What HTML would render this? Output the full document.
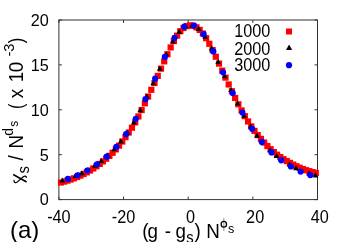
<!DOCTYPE html>
<html><head><meta charset="utf-8"><title>chart</title>
<style>html,body{margin:0;padding:0;background:#fff;}body{width:346px;height:242px;overflow:hidden;position:relative;font-family:"Liberation Sans",sans-serif;}</style>
</head><body>
<svg width="346" height="242" viewBox="0 0 346 242" style="position:absolute;left:0;top:0;will-change:transform">
<rect width="346" height="242" fill="#fff"/>
<g stroke="#333" stroke-width="1.0" fill="none">
<rect x="58.9" y="20.0" width="258.6" height="179.6"/>
<path d="M58.90 199.6V196.6M58.90 20.0V23.0"/>
<path d="M123.55 199.6V196.6M123.55 20.0V23.0"/>
<path d="M188.20 199.6V196.6M188.20 20.0V23.0"/>
<path d="M252.85 199.6V196.6M252.85 20.0V23.0"/>
<path d="M317.50 199.6V196.6M317.50 20.0V23.0"/>
<path d="M58.9 199.60H61.9M317.5 199.60H314.5"/>
<path d="M58.9 154.70H61.9M317.5 154.70H314.5"/>
<path d="M58.9 109.80H61.9M317.5 109.80H314.5"/>
<path d="M58.9 64.90H61.9M317.5 64.90H314.5"/>
<path d="M58.9 20.00H61.9M317.5 20.00H314.5"/>
</g>
<g fill="#f00">
<rect x="57.90" y="179.42" width="6.2" height="6.2"/>
<rect x="61.12" y="178.49" width="6.2" height="6.2"/>
<rect x="64.35" y="177.49" width="6.2" height="6.2"/>
<rect x="67.58" y="176.41" width="6.2" height="6.2"/>
<rect x="70.80" y="175.23" width="6.2" height="6.2"/>
<rect x="74.03" y="173.93" width="6.2" height="6.2"/>
<rect x="77.25" y="172.51" width="6.2" height="6.2"/>
<rect x="80.48" y="170.96" width="6.2" height="6.2"/>
<rect x="83.70" y="169.25" width="6.2" height="6.2"/>
<rect x="86.93" y="167.40" width="6.2" height="6.2"/>
<rect x="90.15" y="165.35" width="6.2" height="6.2"/>
<rect x="93.38" y="163.16" width="6.2" height="6.2"/>
<rect x="96.60" y="160.82" width="6.2" height="6.2"/>
<rect x="99.83" y="158.31" width="6.2" height="6.2"/>
<rect x="103.05" y="155.64" width="6.2" height="6.2"/>
<rect x="106.28" y="152.76" width="6.2" height="6.2"/>
<rect x="109.50" y="149.67" width="6.2" height="6.2"/>
<rect x="112.73" y="146.29" width="6.2" height="6.2"/>
<rect x="115.95" y="142.52" width="6.2" height="6.2"/>
<rect x="119.18" y="138.42" width="6.2" height="6.2"/>
<rect x="122.40" y="134.04" width="6.2" height="6.2"/>
<rect x="125.63" y="129.43" width="6.2" height="6.2"/>
<rect x="128.85" y="124.56" width="6.2" height="6.2"/>
<rect x="132.08" y="119.26" width="6.2" height="6.2"/>
<rect x="135.30" y="113.38" width="6.2" height="6.2"/>
<rect x="138.53" y="106.94" width="6.2" height="6.2"/>
<rect x="141.75" y="100.21" width="6.2" height="6.2"/>
<rect x="144.97" y="93.43" width="6.2" height="6.2"/>
<rect x="148.20" y="86.69" width="6.2" height="6.2"/>
<rect x="151.43" y="79.87" width="6.2" height="6.2"/>
<rect x="154.65" y="72.81" width="6.2" height="6.2"/>
<rect x="157.88" y="65.54" width="6.2" height="6.2"/>
<rect x="161.10" y="58.25" width="6.2" height="6.2"/>
<rect x="164.33" y="51.13" width="6.2" height="6.2"/>
<rect x="167.55" y="44.34" width="6.2" height="6.2"/>
<rect x="170.78" y="37.98" width="6.2" height="6.2"/>
<rect x="174.00" y="32.52" width="6.2" height="6.2"/>
<rect x="177.22" y="28.14" width="6.2" height="6.2"/>
<rect x="180.45" y="24.93" width="6.2" height="6.2"/>
<rect x="183.68" y="23.00" width="6.2" height="6.2"/>
<rect x="186.90" y="22.26" width="6.2" height="6.2"/>
<rect x="190.12" y="22.68" width="6.2" height="6.2"/>
<rect x="193.35" y="24.22" width="6.2" height="6.2"/>
<rect x="196.58" y="26.79" width="6.2" height="6.2"/>
<rect x="199.80" y="30.42" width="6.2" height="6.2"/>
<rect x="203.03" y="35.11" width="6.2" height="6.2"/>
<rect x="206.25" y="40.69" width="6.2" height="6.2"/>
<rect x="209.48" y="46.93" width="6.2" height="6.2"/>
<rect x="212.70" y="53.60" width="6.2" height="6.2"/>
<rect x="215.93" y="60.52" width="6.2" height="6.2"/>
<rect x="219.15" y="67.54" width="6.2" height="6.2"/>
<rect x="222.38" y="74.51" width="6.2" height="6.2"/>
<rect x="225.60" y="81.37" width="6.2" height="6.2"/>
<rect x="228.83" y="88.15" width="6.2" height="6.2"/>
<rect x="232.05" y="94.83" width="6.2" height="6.2"/>
<rect x="235.28" y="101.22" width="6.2" height="6.2"/>
<rect x="238.50" y="107.33" width="6.2" height="6.2"/>
<rect x="241.73" y="113.06" width="6.2" height="6.2"/>
<rect x="244.95" y="118.38" width="6.2" height="6.2"/>
<rect x="248.18" y="123.29" width="6.2" height="6.2"/>
<rect x="251.40" y="127.79" width="6.2" height="6.2"/>
<rect x="254.63" y="131.95" width="6.2" height="6.2"/>
<rect x="257.85" y="135.81" width="6.2" height="6.2"/>
<rect x="261.07" y="139.49" width="6.2" height="6.2"/>
<rect x="264.30" y="142.95" width="6.2" height="6.2"/>
<rect x="267.52" y="146.11" width="6.2" height="6.2"/>
<rect x="270.75" y="148.99" width="6.2" height="6.2"/>
<rect x="273.98" y="151.59" width="6.2" height="6.2"/>
<rect x="277.20" y="153.94" width="6.2" height="6.2"/>
<rect x="280.42" y="156.05" width="6.2" height="6.2"/>
<rect x="283.65" y="157.97" width="6.2" height="6.2"/>
<rect x="286.88" y="159.78" width="6.2" height="6.2"/>
<rect x="290.10" y="161.50" width="6.2" height="6.2"/>
<rect x="293.32" y="163.14" width="6.2" height="6.2"/>
<rect x="296.55" y="164.62" width="6.2" height="6.2"/>
<rect x="299.77" y="165.95" width="6.2" height="6.2"/>
<rect x="303.00" y="167.10" width="6.2" height="6.2"/>
<rect x="306.23" y="168.09" width="6.2" height="6.2"/>
<rect x="309.45" y="169.00" width="6.2" height="6.2"/>
<rect x="312.67" y="169.86" width="6.2" height="6.2"/>
</g>
<g fill="#000">
<path d="M62.40 177.52L65.25 182.46H59.55Z"/>
<path d="M75.38 173.15L78.23 178.08H72.53Z"/>
<path d="M81.87 170.29L84.72 175.23H79.02Z"/>
<path d="M94.85 162.82L97.70 167.75H92.00Z"/>
<path d="M101.34 158.11L104.19 163.05H98.49Z"/>
<path d="M107.83 152.68L110.68 157.61H104.98Z"/>
<path d="M114.32 146.25L117.17 151.19H111.47Z"/>
<path d="M120.81 138.51L123.66 143.44H117.96Z"/>
<path d="M127.30 129.61L130.15 134.54H124.45Z"/>
<path d="M133.79 119.53L136.64 124.47H130.94Z"/>
<path d="M140.28 107.30L143.13 112.23H137.43Z"/>
<path d="M146.77 93.81L149.62 98.75H143.92Z"/>
<path d="M153.26 80.23L156.11 85.17H150.41Z"/>
<path d="M159.75 65.86L162.60 70.80H156.90Z"/>
<path d="M166.24 51.39L169.09 56.33H163.39Z"/>
<path d="M172.73 38.49L175.58 43.43H169.88Z"/>
<path d="M179.22 28.82L182.07 33.76H176.37Z"/>
<path d="M185.71 23.42L188.56 28.35H182.86Z"/>
<path d="M192.20 22.61L195.05 27.55H189.35Z"/>
<path d="M198.69 26.12L201.54 31.06H195.84Z"/>
<path d="M205.18 33.93L208.03 38.87H202.33Z"/>
<path d="M211.67 45.51L214.52 50.44H208.82Z"/>
<path d="M218.16 59.11L221.01 64.04H215.31Z"/>
<path d="M224.65 73.26L227.50 78.20H221.80Z"/>
<path d="M231.14 87.12L233.99 92.06H228.29Z"/>
<path d="M237.63 100.49L240.48 105.43H234.78Z"/>
<path d="M244.12 112.81L246.97 117.75H241.27Z"/>
<path d="M250.61 123.55L253.46 128.49H247.76Z"/>
<path d="M257.10 132.78L259.95 137.72H254.25Z"/>
<path d="M270.08 147.42L272.93 152.35H267.23Z"/>
<path d="M276.57 153.08L279.42 158.02H273.72Z"/>
<path d="M289.55 161.63L292.40 166.56H286.70Z"/>
<path d="M296.04 165.27L298.89 170.21H293.19Z"/>
<path d="M309.02 170.58L311.87 175.52H306.17Z"/>
<path d="M315.51 172.44L318.36 177.38H312.66Z"/>
</g>
<g fill="#00f">
<circle cx="67.90" cy="178.90" r="3.1"/>
<circle cx="77.60" cy="175.27" r="3.1"/>
<circle cx="87.29" cy="170.49" r="3.1"/>
<circle cx="96.99" cy="164.34" r="3.1"/>
<circle cx="106.68" cy="156.64" r="3.1"/>
<circle cx="116.38" cy="146.81" r="3.1"/>
<circle cx="126.08" cy="134.13" r="3.1"/>
<circle cx="135.77" cy="118.75" r="3.1"/>
<circle cx="145.47" cy="99.15" r="3.1"/>
<circle cx="155.16" cy="78.68" r="3.1"/>
<circle cx="164.86" cy="56.91" r="3.1"/>
<circle cx="174.56" cy="37.84" r="3.1"/>
<circle cx="184.25" cy="26.63" r="3.1"/>
<circle cx="193.95" cy="25.56" r="3.1"/>
<circle cx="203.64" cy="34.16" r="3.1"/>
<circle cx="213.34" cy="51.39" r="3.1"/>
<circle cx="223.04" cy="72.32" r="3.1"/>
<circle cx="232.73" cy="93.09" r="3.1"/>
<circle cx="242.43" cy="112.54" r="3.1"/>
<circle cx="252.12" cy="128.79" r="3.1"/>
<circle cx="261.82" cy="141.89" r="3.1"/>
<circle cx="271.52" cy="152.40" r="3.1"/>
<circle cx="281.21" cy="160.36" r="3.1"/>
<circle cx="290.91" cy="166.42" r="3.1"/>
<circle cx="300.60" cy="171.54" r="3.1"/>
<circle cx="310.30" cy="175.03" r="3.1"/>
</g>
<rect x="286" y="28.5" width="6" height="6" fill="#f00"/>
<path d="M289.1 44.62L292.20000000000005 49.99H286.0Z" fill="#000"/>
<circle cx="289" cy="65.2" r="3.1" fill="#00f"/>
<g font-family="'Liberation Sans', sans-serif" fill="#000" style="filter:grayscale(1)">
<text transform="translate(48.7,205.45) scale(0.95,1)" font-size="17.1" text-anchor="end">0</text>
<text transform="translate(48.7,160.55) scale(0.95,1)" font-size="17.1" text-anchor="end">5</text>
<text transform="translate(48.7,115.65) scale(0.95,1)" font-size="17.1" text-anchor="end">10</text>
<text transform="translate(48.7,70.75) scale(0.95,1)" font-size="17.1" text-anchor="end">15</text>
<text transform="translate(48.7,25.85) scale(0.95,1)" font-size="17.1" text-anchor="end">20</text>
<text transform="translate(58.90,222.8) scale(0.95,1.04)" font-size="17.1" text-anchor="middle">-40</text>
<text transform="translate(123.55,222.8) scale(0.95,1.04)" font-size="17.1" text-anchor="middle">-20</text>
<text transform="translate(190.50,222.8) scale(0.95,1.04)" font-size="17.1" text-anchor="middle">0</text>
<text transform="translate(255.15,222.8) scale(0.95,1.04)" font-size="17.1" text-anchor="middle">20</text>
<text transform="translate(319.80,222.8) scale(0.95,1.04)" font-size="17.1" text-anchor="middle">40</text>
<text transform="translate(270.3,37.0) scale(0.95,1.04)" font-size="17.1" text-anchor="end">1000</text>
<text transform="translate(270.3,54.5) scale(0.95,1.04)" font-size="17.1" text-anchor="end">2000</text>
<text transform="translate(270.3,70.8) scale(0.95,1.04)" font-size="17.1" text-anchor="end">3000</text>
<text x="10.0" y="237.9" font-size="24">(a)</text>
<text transform="translate(142.3,238.00) scale(0.95,1)" font-size="19.80">(</text>
<text transform="translate(147.6,238.00) scale(0.95,1)" font-size="19.80">g</text>
<text transform="translate(164.7,238.00) scale(0.95,1)" font-size="19.80">-</text>
<text transform="translate(175.5,238.00) scale(0.95,1)" font-size="19.80">g</text>
<text transform="translate(186.2,243.40) scale(0.95,1)" font-size="15.60">s</text>
<text transform="translate(194.6,238.00) scale(0.95,1)" font-size="19.80">)</text>
<text transform="translate(206.2,238.00) scale(0.95,1)" font-size="19.80">N</text>
<text transform="translate(227.9,233.30) scale(0.95,1)" font-size="13.30">s</text>
<ellipse cx="223.85" cy="224.2" rx="2.7" ry="2.9" fill="none" stroke="#000" stroke-width="1.3"/>
<path d="M223.85 217.8V231" stroke="#000" stroke-opacity="0.55" stroke-width="0.8"/>
<path d="M13.2 174.5L26.6 182" stroke="#000" stroke-width="1.5" fill="none"/>
<path d="M14.0 180.4C14.0 182.5 15.6 183.4 17.1 182.1L23.6 176.6C24.8 175.6 26.1 176.0 26.4 177.4" stroke="#000" stroke-width="1.25" fill="none" stroke-linecap="round"/>
<text transform="translate(28.70,173.40) rotate(-90) scale(0.95,1)" font-size="15.60">s</text>
<text transform="translate(22.70,160.60) rotate(-90) scale(0.95,1)" font-size="19.80">/</text>
<text transform="translate(22.70,148.40) rotate(-90) scale(0.95,1)" font-size="19.80">N</text>
<text transform="translate(13.20,135.80) rotate(-90) scale(0.95,1)" font-size="14.80">d</text>
<text transform="translate(18.10,126.80) rotate(-90) scale(0.95,1)" font-size="12.50">s</text>
<text transform="translate(22.70,108.90) rotate(-90) scale(0.82,1)" font-size="19.80">(</text>
<text transform="translate(22.70,98.20) rotate(-90) scale(0.95,1)" font-size="19.80">x</text>
<text transform="translate(22.70,82.30) rotate(-90) scale(0.95,1)" font-size="19.80">1</text>
<text transform="translate(22.70,72.30) rotate(-90) scale(0.95,1)" font-size="19.80">0</text>
<text transform="translate(14.30,56.60) rotate(-90) scale(0.95,1)" font-size="15.20">-</text>
<text transform="translate(14.00,51.70) rotate(-90) scale(0.95,1)" font-size="15.40">3</text>
<text transform="translate(22.70,43.30) rotate(-90) scale(0.82,1)" font-size="19.80">)</text>
</g>
</svg>
</body></html>
